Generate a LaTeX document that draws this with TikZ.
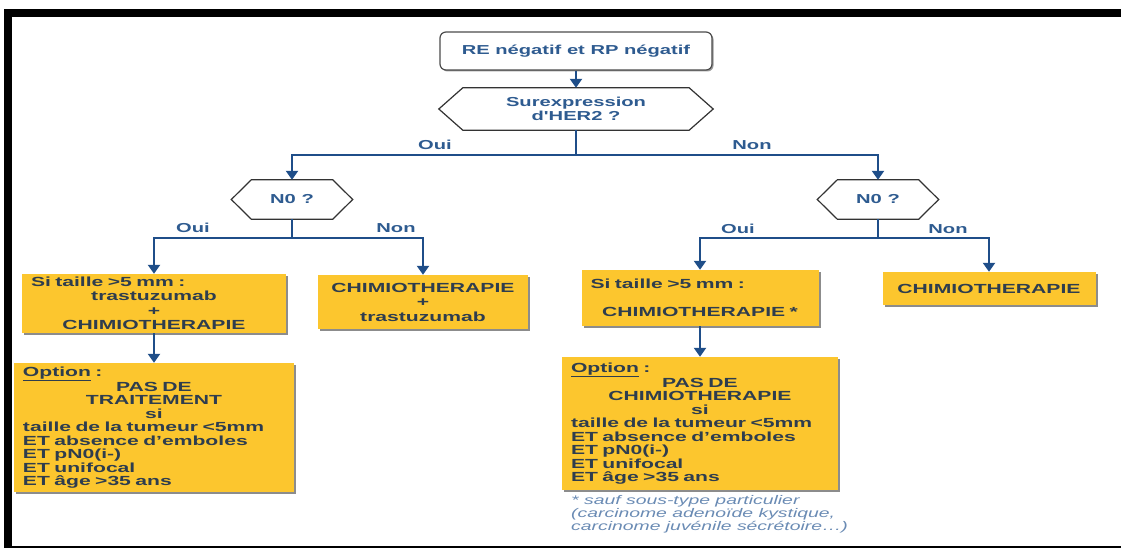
\documentclass[tikz,border=0pt]{standalone}
\usepackage{fontspec}
\usepackage{tikz}
\usetikzlibrary{arrows.meta,positioning,shadows,backgrounds}
\newfontfamily\diag[FakeStretch=1.55]{Liberation Sans}
\newfontfamily\diagw[FakeStretch=1.6]{Liberation Sans}
\definecolor{linkblue}{HTML}{1F4E89}
\definecolor{labelblue}{HTML}{2E5B90}
\definecolor{slate}{HTML}{2E3D4E}
\definecolor{gold}{HTML}{FCC62E}
\definecolor{noteblue}{HTML}{6A8BB4}
\newcommand\lft[1]{\makebox[\hsize][l]{#1}}

\begin{document}
\begin{tikzpicture}[x=1pt,y=-1pt,
  every node/.style={font={\diag\bfseries\fontsize{13}{13.5}\selectfont}},
  goldbox/.style={fill=gold,text=slate,align=center,inner xsep=9pt,inner ysep=0pt,
    font={\diagw\bfseries\fontsize{13.2}{13.5}\selectfont},
    drop shadow={shadow xshift=2pt,shadow yshift=-2pt,fill=black!45,opacity=1}},
  hexa/.style={inner sep=0pt,text=labelblue,align=center},
  lbl/.style={text=labelblue,inner sep=0pt},
  link/.style={draw=linkblue,line width=2.4pt,-{Triangle[width=12pt,length=9pt]}}]
  \useasboundingbox (0,0) rectangle (1121,548);
  % frame
  \fill[black] (4,9) rectangle (1121,17);
  \fill[black] (4,9) rectangle (12,548);
  \fill[black] (4,545.5) rectangle (1121,547.5);

  \node[draw=black!70,line width=1.2pt,rounded corners=6pt,fill=white,text=labelblue,minimum width=272pt,minimum height=38pt,
    drop shadow={shadow xshift=1.5pt,shadow yshift=-1.5pt,fill=black!40,opacity=1}] (top) at (576,51) {RE négatif et RP négatif};
  \node[hexa,minimum width=274pt,minimum height=42pt] (her) at (576,109) {Surexpression\\d'HER2 ?};
  \node[hexa,minimum width=121pt,minimum height=39pt] (nl) at (292,199.5) {N0 ?};
  \node[hexa,minimum width=121pt,minimum height=39pt] (nr) at (878,199.5) {N0 ?};

  \begin{scope}[on background layer]
    \foreach \h/\c in {her/24,nl/20,nr/20} {
      \fill[black!60,shift={(2,2)}] (\h.west) -- ([xshift=\c pt]\h.north west) -- ([xshift=-\c pt]\h.north east) -- (\h.east)
        -- ([xshift=-\c pt]\h.south east) -- ([xshift=\c pt]\h.south west) -- cycle;
      \draw[black!80,line width=1.2pt,fill=white] (\h.west) -- ([xshift=\c pt]\h.north west) -- ([xshift=-\c pt]\h.north east) -- (\h.east)
        -- ([xshift=-\c pt]\h.south east) -- ([xshift=\c pt]\h.south west) -- cycle;
    }
  \end{scope}

  \node[goldbox,minimum width=264pt,minimum height=59pt,text width=246pt] (b1) at (154,303.5)
    {\lft{Si taille >5 mm :}\\[1pt]trastuzumab\\[1pt]+\\[1pt]CHIMIOTHERAPIE};
  \node[goldbox,minimum width=210pt,minimum height=54pt] (b2) at (423,302)
    {CHIMIOTHERAPIE\\[1pt]+\\[1pt]trastuzumab};
  \node[goldbox,minimum width=237pt,minimum height=56pt,text width=219pt] (b3) at (700,298)
    {\lft{Si taille >5 mm :}\\[14pt]CHIMIOTHERAPIE *};
  \node[goldbox,minimum width=213pt,minimum height=33pt] (b4) at (989,288.5) {CHIMIOTHERAPIE};
  \node[goldbox,minimum width=280pt,minimum height=129pt,text width=262pt] (b5) at (154,427.5)
    {\lft{\underline{Option} :}\\PAS DE\\TRAITEMENT\\si\\\lft{taille de la tumeur <5mm}\\\lft{ET absence d’emboles}\\
     \lft{ET pN0(i-)}\\\lft{ET unifocal}\\\lft{ET âge >35 ans}};
  \node[goldbox,minimum width=276pt,minimum height=133pt,text width=258pt] (b6) at (700,423.5)
    {\lft{\underline{Option} :}\\PAS DE\\CHIMIOTHERAPIE\\si\\\lft{taille de la tumeur <5mm}\\\lft{ET absence d’emboles}\\
     \lft{ET pN0(i-)}\\\lft{ET unifocal}\\\lft{ET âge >35 ans}};
  \node[anchor=north west,align=left,inner sep=0pt,text=noteblue,font={\diag\itshape\fontsize{12.5}{13}\selectfont}] (note) at (571,495)
    {* sauf sous-type particulier\\(carcinome adenoïde kystique,\\carcinome juvénile sécrétoire…)};

  \node[lbl] (oui1) at (435,145) {Oui};
  \node[lbl] (non1) at (752,145) {Non};
  \node[lbl] (oui2) at (193,228) {Oui};
  \node[lbl] (non2) at (396,228) {Non};
  \node[lbl] (oui3) at (738,229) {Oui};
  \node[lbl] (non3) at (948,229) {Non};

  \draw[link] (top) -- (her);
  \foreach \y in {nl,nr} \draw[link] (her.south) -- ++(0,25) -| (\y.north);
  \foreach \y in {b1,b2} \draw[link] (nl.south) -- ++(0,19) -| (\y.north);
  \foreach \y in {b3,b4} \draw[link] (nr.south) -- ++(0,19) -| (\y.north);
  \foreach \x/\y in {b1/b5,b3/b6} \draw[link] (\x)--(\y);
\end{tikzpicture}
\end{document}
